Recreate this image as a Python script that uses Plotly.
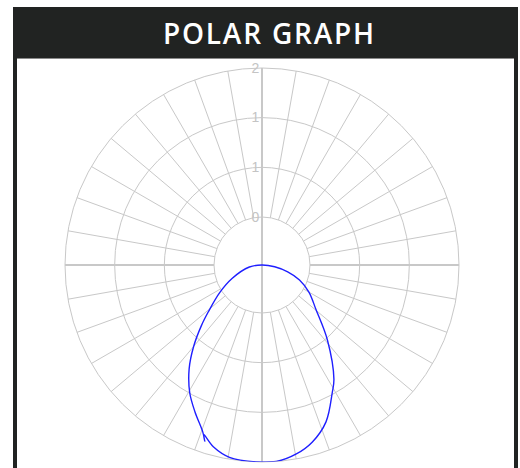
import plotly.graph_objects as go

# ---- data ----
# angle measured from nadir (0 = straight down), positive toward the right
curve_theta = [-90, -81, -66, -57, -49, -45, -40, -35, -29.5, -24.5, -19.5, -18, -19, -15,
               -9.6, -1.6, 4.2, 10.3, 15.8, 22.2, 28.8, 32.2, 41.1, 50.5, 60, 68.2, 75, 82, 90]
curve_r = [0.00, 0.13, 0.33, 0.51, 0.72, 0.87, 1.08, 1.29, 1.49, 1.64, 1.80, 1.88, 1.82, 1.91,
           1.98, 2.00, 2.00, 1.95, 1.87, 1.72, 1.48, 1.37, 1.01, 0.71, 0.55, 0.41, 0.27, 0.13, 0.00]

radial_tickvals = [0, 2 / 3, 4 / 3, 2]
radial_ticktext = ["0", "1", "1", "2"]
title_text = "POLAR GRAPH"

W, H = 520, 468
GRID = "#c8c8c8"
DARK = "#212322"

cx, cy, R = 262, 265, 197
dom_x = [(cx - R) / W, (cx + R) / W]
dom_y = [1 - (cy + R) / H, 1 - (cy - R) / H]
hole = 48 / R

fig = go.Figure()

# invisible anchors so the grid subplots are rendered
for sp in ["polar", "polar3"]:
    fig.add_trace(go.Scatterpolar(
        r=[0], theta=[0], mode="markers", marker=dict(opacity=0, size=1),
        subplot=sp, showlegend=False, hoverinfo="skip",
    ))

# data curve on the full (no-hole) polar
fig.add_trace(go.Scatterpolar(
    r=curve_r, theta=curve_theta, mode="lines",
    line=dict(color="#1f1fff", width=1.4, shape="spline", smoothing=1.0),
    subplot="polar2", showlegend=False, hoverinfo="skip",
))

fig.update_layout(
    width=W, height=H,
    margin=dict(l=0, r=0, t=0, b=0),
    paper_bgcolor="white",
    showlegend=False,
    polar=dict(
        domain=dict(x=dom_x, y=dom_y),
        hole=hole,
        bgcolor="rgba(0,0,0,0)",
        radialaxis=dict(
            range=[0, 2], tickvals=radial_tickvals, ticktext=radial_ticktext,
            angle=90, tickangle=90, showline=False, ticks="",
            gridcolor=GRID, gridwidth=1,
            tickfont=dict(family="Liberation Sans", size=14, color="#c4c4c4"),
            side="counterclockwise",
        ),
        angularaxis=dict(
            dtick=10, showticklabels=False, ticks="",
            gridcolor=GRID, gridwidth=1, showline=True, linecolor=GRID, linewidth=1,
        ),
    ),
    polar2=dict(
        domain=dict(x=dom_x, y=dom_y),
        bgcolor="rgba(0,0,0,0)",
        radialaxis=dict(range=[0, 2], showgrid=False, showline=False,
                        showticklabels=False, ticks=""),
        angularaxis=dict(
            rotation=-90, direction="counterclockwise",
            tickvals=[0, 180], showticklabels=False, ticks="",
            gridcolor=GRID, gridwidth=2, showline=False,
        ),
    ),
    polar3=dict(
        domain=dict(x=dom_x, y=dom_y),
        hole=hole,
        bgcolor="rgba(0,0,0,0)",
        radialaxis=dict(range=[0, 2], showgrid=False, showline=False,
                        showticklabels=False, ticks=""),
        angularaxis=dict(
            tickvals=[0, 180], showticklabels=False, ticks="",
            gridcolor=GRID, gridwidth=2, showline=False,
        ),
    ),
)

# frame and title bar
shapes = [
    dict(type="rect", xref="paper", yref="paper",
         x0=13 / W, x1=518 / W, y0=1 - 58 / H, y1=1 - 7 / H,
         fillcolor=DARK, line=dict(width=0), layer="above"),
    dict(type="line", xref="paper", yref="paper",
         x0=17 / W, x1=514 / W, y0=1 - 58.5 / H, y1=1 - 58.5 / H,
         line=dict(color="#8a8a8a", width=1), layer="above"),
    dict(type="rect", xref="paper", yref="paper",
         x0=13 / W, x1=17 / W, y0=0, y1=1 - 7 / H,
         fillcolor=DARK, line=dict(width=0), layer="above"),
    dict(type="rect", xref="paper", yref="paper",
         x0=514 / W, x1=518 / W, y0=0, y1=1 - 7 / H,
         fillcolor=DARK, line=dict(width=0), layer="above"),
]
fig.update_layout(shapes=shapes)
fig.add_annotation(
    text='<span style="letter-spacing:1.8px">' + title_text + '</span>',
    xref="paper", yref="paper",
    x=269 / W, y=1 - 33 / H, xanchor="center", yanchor="middle",
    showarrow=False,
    font=dict(family="Open Sans", size=28, color="white", weight=600),
)

fig.write_html("out.html", config={"displayModeBar": False},
               post_script="document.body.style.margin='0';")
